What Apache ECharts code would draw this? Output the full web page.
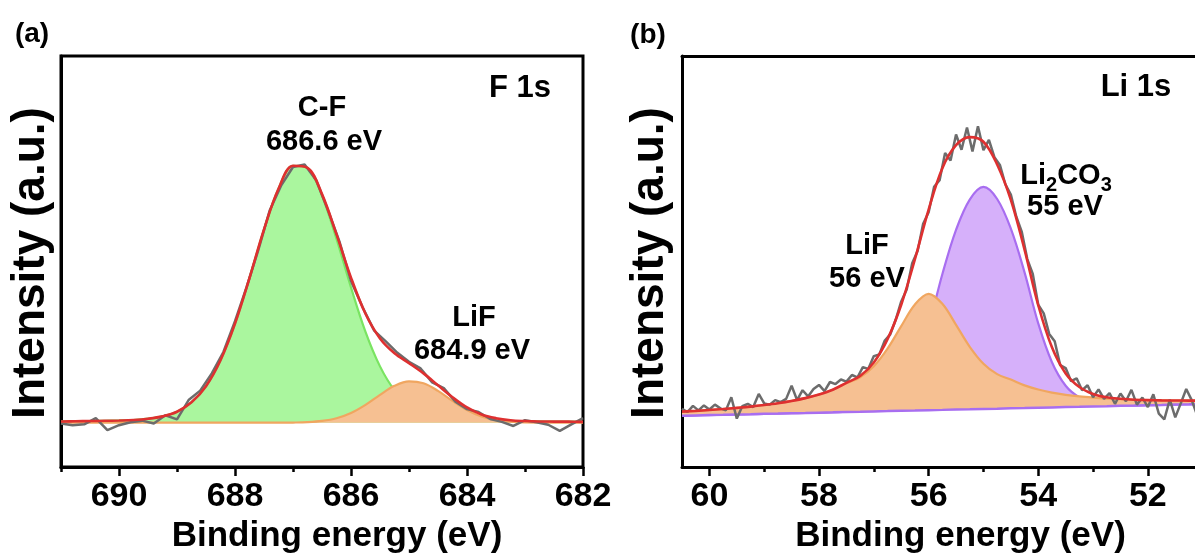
<!DOCTYPE html>
<html>
<head>
<meta charset="utf-8">
<script src="https://cdn.jsdelivr.net/npm/echarts@6/dist/echarts.min.js"></script>
<style>
html,body{margin:0;padding:0;background:#fff;}
#chart{width:1195px;height:559px;}
</style>
</head>
<body>
<div id="chart"></div>
<script>
// ---------- Panel (a) F 1s ----------
const energyA = [691, 690.75, 690.5, 690.25, 690, 689.75, 689.5, 689.25, 689, 688.75, 688.5, 688.25, 688, 687.75, 687.5, 687.25, 687, 686.75, 686.5, 686.25, 686, 685.75, 685.5, 685.25, 685, 684.75, 684.5, 684.25, 684, 683.75, 683.5, 683.25, 683, 682.75, 682.5, 682.25, 682];
const bgA = [10.8, 10.8, 10.8, 10.8, 10.8, 10.8, 10.8, 10.8, 10.8, 10.8, 10.8, 10.8, 10.8, 10.8, 10.8, 10.8, 10.8, 10.8, 10.8, 10.8, 10.8, 10.8, 10.8, 10.8, 10.8, 10.8, 10.8, 10.8, 10.8, 10.8, 10.8, 10.8, 10.8, 10.8, 10.8, 10.8, 10.8];
const cfA = [0.3, 0.35, 0.4, 0.46, 0.53, 0.66, 0.97, 1.54, 2.66, 4.97, 8.89, 15.2, 24.1, 35.2, 47.0, 56.9, 62.5, 61.9, 55.2, 44.7, 32.9, 22.1, 13.7, 7.9, 4.4, 2.4, 1.37, 0.9, 0.62, 0.51, 0.44, 0.39, 0.34, 0.30, 0.27, 0.25, 0.22];
const lifA = [0, 0, 0, 0, 0, 0, 0, 0, 0, 0, 0, 0, 0, 0, 0, 0, 0.04, 0.14, 0.43, 1.09, 2.37, 4.35, 6.78, 8.97, 10.07, 9.58, 7.74, 5.30, 3.08, 1.52, 0.64, 0.23, 0.07, 0.02, 0, 0, 0];
const fitA = [11.1, 11.15, 11.2, 11.26, 11.33, 11.46, 11.77, 12.34, 13.46, 15.77, 19.69, 26.0, 34.9, 46.0, 57.8, 67.7, 73.3, 72.8, 66.4, 56.6, 46.1, 37.3, 31.3, 27.7, 25.3, 22.8, 19.9, 17.0, 14.5, 12.8, 11.9, 11.4, 11.2, 11.1, 11.07, 11.05, 11.0];
const rawEnergyA = [691.0, 690.8, 690.6, 690.4, 690.2, 690.0, 689.8, 689.6, 689.4, 689.2, 689.0, 688.8, 688.6, 688.4, 688.2, 688.0, 687.8, 687.6, 687.4, 687.2, 687.0, 686.8, 686.6, 686.4, 686.2, 686.0, 685.8, 685.6, 685.4, 685.2, 685.0, 684.8, 684.6, 684.4, 684.2, 684.0, 683.8, 683.6, 683.4, 683.2, 683.0, 682.8, 682.6, 682.4, 682.2, 682.0];
const rawA = [10.6, 10.2, 10.4, 11.9, 9.0, 10.2, 10.9, 11.3, 10.6, 12.6, 11.6, 16.3, 18.6, 22.8, 28.0, 35.5, 43.8, 52.7, 62.5, 68.6, 73.0, 73.6, 69.8, 62.6, 54.9, 45.3, 38.9, 33.2, 30.6, 27.8, 25.6, 24.0, 20.6, 19.2, 15.9, 14.1, 13.4, 11.7, 11.0, 10.0, 11.4, 10.9, 10.3, 8.8, 10.4, 11.9];
const majorTicksA = [690, 688, 686, 684, 682];
const minorTicksA = [691, 689, 687, 685, 683];

// ---------- Panel (b) Li 1s ----------
const energyB = [60.5, 60.25, 60, 59.75, 59.5, 59.25, 59, 58.75, 58.5, 58.25, 58, 57.75, 57.5, 57.25, 57, 56.75, 56.5, 56.25, 56, 55.75, 55.5, 55.25, 55, 54.75, 54.5, 54.25, 54, 53.75, 53.5, 53.25, 53, 52.75, 52.5, 52.25, 52, 51.75, 51.5, 51.25, 51];
const bgB = [12.50, 12.57, 12.65, 12.72, 12.80, 12.87, 12.95, 13.02, 13.10, 13.17, 13.25, 13.32, 13.40, 13.47, 13.55, 13.62, 13.70, 13.77, 13.85, 13.92, 14.00, 14.07, 14.15, 14.22, 14.30, 14.37, 14.45, 14.52, 14.60, 14.67, 14.75, 14.82, 14.90, 14.97, 15.05, 15.12, 15.20, 15.27, 15.35];
const li2co3B = [0, 0, 0, 0, 0, 0, 0, 0, 0, 0, 0, 0, 0.1, 0.3, 0.9, 2.3, 5.2, 11.0, 20.5, 33.0, 43.7, 51.0, 54.0, 51.0, 43.7, 33.0, 20.5, 11.0, 5.2, 2.3, 0.9, 0.3, 0.1, 0, 0, 0, 0, 0, 0];
const lifB = [1.00, 1.11, 1.25, 1.41, 1.61, 1.85, 2.15, 2.52, 2.99, 3.61, 4.42, 5.51, 7.00, 8.4, 11.0, 15.2, 20.6, 25.8, 28.3, 25.8, 20.6, 15.2, 11.0, 8.4, 7.00, 5.51, 4.42, 3.61, 2.99, 2.52, 2.15, 1.85, 1.61, 1.41, 1.25, 1.11, 1.00, 0.90, 0.81];
const fitB = [13.50, 13.68, 13.90, 14.13, 14.41, 14.72, 15.10, 15.54, 16.09, 16.78, 17.67, 18.83, 20.50, 22.17, 25.45, 31.12, 39.50, 50.57, 62.65, 72.72, 78.30, 80.27, 79.15, 73.62, 65.00, 52.88, 39.37, 29.13, 22.79, 19.49, 17.80, 16.97, 16.61, 16.38, 16.30, 16.23, 16.20, 16.17, 16.16];
const rawEnergyB = [60.5, 60.4, 60.3, 60.2, 60.1, 60.0, 59.9, 59.8, 59.7, 59.6, 59.5, 59.4, 59.3, 59.2, 59.1, 59.0, 58.9, 58.8, 58.7, 58.6, 58.5, 58.4, 58.3, 58.2, 58.1, 58.0, 57.9, 57.8, 57.7, 57.6, 57.5, 57.4, 57.3, 57.2, 57.1, 57.0, 56.9, 56.8, 56.7, 56.6, 56.5, 56.4, 56.3, 56.2, 56.1, 56.0, 55.9, 55.8, 55.7, 55.6, 55.5, 55.4, 55.3, 55.2, 55.1, 55.0, 54.9, 54.8, 54.7, 54.6, 54.5, 54.4, 54.3, 54.2, 54.1, 54.0, 53.9, 53.8, 53.7, 53.6, 53.5, 53.4, 53.3, 53.2, 53.1, 53.0, 52.9, 52.8, 52.7, 52.6, 52.5, 52.4, 52.3, 52.2, 52.1, 52.0, 51.9, 51.8, 51.7, 51.6, 51.5, 51.4, 51.3, 51.2, 51.1, 51.0];
const rawB = [14.2, 13.4, 14.9, 13.8, 15.0, 14.0, 15.2, 14.3, 13.8, 17.0, 11.8, 14.8, 15.4, 14.6, 17.8, 15.5, 15.2, 16.3, 15.8, 16.6, 19.8, 16.3, 18.7, 17.2, 19.0, 20.0, 18.5, 20.7, 20.2, 21.3, 20.8, 22.4, 21.8, 24.3, 23.9, 27.0, 27.4, 30.8, 32.3, 35.9, 40.3, 43.2, 49.6, 52.6, 59.2, 62.0, 68.2, 69.8, 76.4, 74.6, 80.9, 77.2, 82.6, 76.8, 82.9, 77.1, 79.6, 75.4, 73.5, 68.8, 66.3, 60.9, 57.2, 50.6, 47.0, 39.5, 37.4, 32.4, 30.6, 24.8, 24.1, 20.9, 21.6, 18.7, 19.9, 17.0, 18.9, 16.6, 18.0, 15.4, 17.9, 16.0, 18.8, 15.2, 16.9, 14.6, 17.7, 13.0, 11.6, 16.4, 12.1, 15.5, 19.0, 16.3, 12.6, 16.0];
const majorTicksB = [60, 58, 56, 54, 52];
const minorTicksB = [59, 57, 55, 53];

// ---------- styling ----------
const FONT = "'Liberation Sans', Arial, Helvetica, sans-serif";
const GREEN_FILL = 'rgb(170,246,158)', GREEN_LINE = 'rgb(122,228,98)';
const ORANGE_FILL = 'rgb(246,192,146)', ORANGE_LINE = 'rgb(240,166,96)';
const PURPLE_FILL = 'rgb(214,176,250)', PURPLE_LINE = 'rgb(168,110,240)';
const RED = 'rgb(222,48,48)', GRAY = 'rgb(108,108,108)';

const pairs = (xs, ys) => xs.map((x, i) => [x, ys[i]]);
// value-first rows so that stacking acts on the intensity dimension
const rowsYX = (xs, ys) => xs.map((x, i) => [ys[i], x]);

function minorAxis(grid, min, max, ticks) {
  return {
    type: 'value', gridIndex: grid, min: min, max: max, inverse: true, position: 'bottom',
    axisLine: { show: true, onZero: false, lineStyle: { color: '#000', width: 3 } },
    axisTick: { show: true, customValues: ticks, length: 5, lineStyle: { color: '#000', width: 2.5 } },
    axisLabel: { show: false }, splitLine: { show: false }
  };
}
function majorAxis(grid, min, max, ticks, namePad) {
  return {
    type: 'value', gridIndex: grid, min: min, max: max, inverse: true, position: 'bottom',
    axisLine: { show: false, onZero: false },
    axisTick: { show: true, customValues: ticks, length: 9, lineStyle: { color: '#000', width: 2.5 } },
    axisLabel: { show: true, customValues: ticks, margin: 13, color: '#000', fontSize: 34, fontWeight: 'bold', fontFamily: FONT },
    splitLine: { show: false },
    name: 'Binding energy (eV)', nameLocation: 'middle', nameGap: 46,
    nameTextStyle: { color: '#000', fontSize: 35, fontWeight: 'bold', fontFamily: FONT, padding: namePad }
  };
}
function topAxis(grid, min, max) {
  return {
    type: 'value', gridIndex: grid, min: min, max: max, inverse: true, position: 'top',
    axisLine: { show: true, onZero: false, lineStyle: { color: '#000', width: 3 } },
    axisTick: { show: false }, axisLabel: { show: false }, splitLine: { show: false }
  };
}
function yAx(grid) {
  return {
    type: 'value', gridIndex: grid, min: 0, max: 100,
    axisLine: { show: true, onZero: false, lineStyle: { color: '#000', width: 3 } },
    axisTick: { show: false }, axisLabel: { show: false }, splitLine: { show: false }
  };
}
function hidden(xi, yi, xs, ys, stack) {
  return { type: 'line', xAxisIndex: xi, yAxisIndex: yi, data: rowsYX(xs, ys), encode: { x: 1, y: 0 },
    stack: stack, symbol: 'none', silent: true, lineStyle: { width: 0, opacity: 0 }, z: 1 };
}
function baseLine(xi, yi, xs, ys, stack, color, z) {
  return { type: 'line', xAxisIndex: xi, yAxisIndex: yi, data: rowsYX(xs, ys), encode: { x: 1, y: 0 },
    stack: stack, symbol: 'none', silent: true, lineStyle: { color: color, width: 2.5 }, z: z };
}
function comp(xi, yi, xs, ys, stack, line, fill, z) {
  return { type: 'line', xAxisIndex: xi, yAxisIndex: yi, data: rowsYX(xs, ys), encode: { x: 1, y: 0 },
    stack: stack, symbol: 'none', smooth: 0.35, silent: true,
    lineStyle: { color: line, width: 2.2 }, areaStyle: { color: fill, opacity: 1 }, z: z };
}
function plain(xi, yi, xs, ys, color, width, smooth, z) {
  return { type: 'line', xAxisIndex: xi, yAxisIndex: yi, data: pairs(xs, ys),
    symbol: 'none', smooth: smooth, silent: true, lineStyle: { color: color, width: width }, z: z };
}
function txt(x, y, s, size, rot) {
  return { type: 'text', x: x, y: y, z: 100, rotation: rot || 0,
    style: { text: s, fill: '#000', fontSize: size, fontWeight: 'bold', fontFamily: FONT, align: 'center', verticalAlign: 'middle' } };
}

const B_MIN = 51.14, B_MAX = 60.5;

const chart = echarts.init(document.getElementById('chart'), null, { renderer: 'canvas' });
chart.setOption({
  animation: false,
  backgroundColor: '#fff',
  grid: [
    { left: 61, top: 56, width: 522, height: 418, show: true, borderColor: '#000', borderWidth: 3, backgroundColor: 'transparent' },
    { left: 682, top: 56, right: 0, height: 418, show: false }
  ],
  xAxis: [
    minorAxis(0, 682, 691, minorTicksA),
    majorAxis(0, 682, 691, majorTicksA, [0, 0, 0, 30]),
    minorAxis(1, B_MIN, B_MAX, minorTicksB),
    majorAxis(1, B_MIN, B_MAX, majorTicksB, [0, 0, 0, 44]),
    topAxis(1, B_MIN, B_MAX)
  ],
  yAxis: [ yAx(0), yAx(1) ],
  series: [
    hidden(0, 0, energyA, bgA, 'cfA'),
    comp(0, 0, energyA, cfA, 'cfA', GREEN_LINE, GREEN_FILL, 2),
    hidden(0, 0, energyA, bgA, 'lifA'),
    comp(0, 0, energyA, lifA, 'lifA', ORANGE_LINE, ORANGE_FILL, 3),
    plain(0, 0, rawEnergyA, rawA, GRAY, 2.5, false, 5),
    plain(0, 0, energyA, fitA, RED, 2.6, 0.35, 6),

    hidden(2, 1, energyB, bgB, 'carbB'),
    comp(2, 1, energyB, li2co3B, 'carbB', PURPLE_LINE, PURPLE_FILL, 2),
    baseLine(2, 1, energyB, bgB, 'lifB', PURPLE_LINE, 4),
    comp(2, 1, energyB, lifB, 'lifB', ORANGE_LINE, ORANGE_FILL, 3),
    plain(2, 1, rawEnergyB, rawB, GRAY, 2.5, false, 5),
    plain(2, 1, energyB, fitB, RED, 2.6, 0.35, 6)
  ],
  graphic: [
    txt(32, 34, '(a)', 28),
    txt(648, 35, '(b)', 28),
    txt(31, 263, 'Intensity (a.u.)', 46, Math.PI / 2),
    txt(650, 263, 'Intensity (a.u.)', 46, Math.PI / 2),
    txt(520, 88, 'F 1s', 31),
    txt(1136, 87, 'Li 1s', 31),
    txt(322, 108, 'C-F', 29),
    txt(324, 142, '686.6 eV', 29),
    txt(474, 318, 'LiF', 29),
    txt(472, 351, '684.9 eV', 29),
    txt(867, 246, 'LiF', 29),
    txt(867, 279, '56 eV', 29),
    {
      type: 'text', x: 1066, y: 161, z: 100,
      style: {
        text: '{m|Li}{s|2}{m|CO}{s|3}', align: 'center', verticalAlign: 'top',
        fontFamily: FONT, fontWeight: 'bold', fontSize: 29, fill: '#000',
        rich: {
          m: { fontSize: 29, fontWeight: 'bold', fontFamily: FONT, lineHeight: 29, verticalAlign: 'top', fill: '#000', color: '#000' },
          s: { fontSize: 20, fontWeight: 'bold', fontFamily: FONT, lineHeight: 20, padding: [14, 0, 0, 0], verticalAlign: 'top', fill: '#000', color: '#000' }
        }
      }
    },
    txt(1065, 207, '55 eV', 29)
  ]
});
</script>
</body>
</html>
